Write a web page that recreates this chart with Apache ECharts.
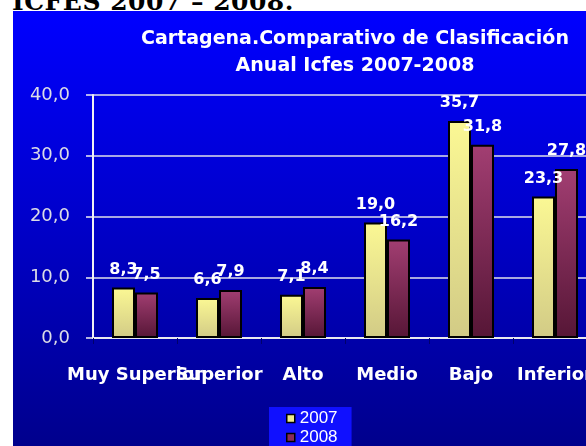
<!DOCTYPE html>
<html>
<head>
<meta charset="utf-8">
<script src="https://cdn.jsdelivr.net/npm/echarts@6/dist/echarts.min.js"></script>
<style>
  html, body { margin: 0; padding: 0; width: 586px; height: 446px; overflow: hidden; background: #fff; }
  #head { position: absolute; left: 12px; top: -13px; font-family: 'DejaVu Serif', serif; font-weight: bold; font-size: 25px; letter-spacing: 0.5px; color: #000; white-space: nowrap; }
  #chart { position: absolute; left: 13px; top: 11px; width: 684px; height: 450px;
           background: linear-gradient(to bottom, #0000ff 0%, #0000cc 45%, #000088 100%); }
</style>
</head>
<body>
<div id="head">ICFES 2007 – 2008.</div>
<div id="chart"></div>
<script>
// valores
const categorias = ['Muy Superior', 'Superior', 'Alto', 'Medio', 'Bajo', 'Inferior'];
const datos2007 = [8.3, 6.6, 7.1, 19.0, 35.7, 23.3];
const datos2008 = [7.5, 7.9, 8.4, 16.2, 31.8, 27.8];
const ticksY = [0, 10, 20, 30, 40];

const chart = echarts.init(document.getElementById('chart'));

const coma = v => v.toFixed(1).replace('.', ',');

const etiqueta = {
  show: true,
  position: 'top',
  distance: 10,
  color: '#ffffff',
  fontFamily: 'DejaVu Sans',
  fontWeight: 'bold',
  fontSize: 16,
  formatter: p => coma(p.value)
};

const option = {
  animation: false,
  title: {
    text: 'Cartagena.Comparativo de Clasificación\nAnual Icfes 2007-2008',
    left: 'center',
    top: 10,
    textStyle: {
      color: '#ffffff',
      fontFamily: 'DejaVu Sans',
      fontWeight: 'bold',
      fontSize: 19,
      lineHeight: 27
    }
  },
  legend: {
    orient: 'vertical',
    left: 256,
    top: 396,
    padding: [3, 14, 10, 17],
    backgroundColor: '#1010ff',
    itemWidth: 8,
    itemHeight: 8,
    itemGap: 2,
    icon: 'rect',
    textStyle: { color: '#ffffff', fontFamily: 'Liberation Sans', fontSize: 17 },
    data: [
      { name: '2007', itemStyle: { color: '#f0ec8c', borderColor: '#000', borderWidth: 1.5 } },
      { name: '2008', itemStyle: { color: '#8a2c5a', borderColor: '#000', borderWidth: 1.5 } }
    ]
  },
  grid: { left: 80, top: 84, width: 504, height: 243 },
  xAxis: {
    type: 'category',
    data: categorias,
    axisLine: { lineStyle: { color: '#e8e8ee', width: 2 } },
    axisTick: { show: true, length: 6, lineStyle: { color: '#00006a', width: 1 } },
    axisLabel: {
      interval: 0,
      margin: 28,
      color: '#ffffff',
      fontFamily: 'DejaVu Sans',
      fontWeight: 'bold',
      fontSize: 18
    }
  },
  yAxis: {
    type: 'value',
    min: ticksY[0],
    max: ticksY[ticksY.length - 1],
    interval: 10,
    axisLine: { show: true, lineStyle: { color: '#f0f0f4', width: 2 } },
    axisTick: { show: true, length: 7, lineStyle: { color: '#f0f0f4', width: 1.5 } },
    splitLine: { lineStyle: { color: '#e0e0ea', width: 1.5 } },
    axisLabel: {
      margin: 23,
      color: '#dcdce6',
      fontFamily: 'DejaVu Sans',
      fontSize: 18,
      formatter: v => coma(v)
    }
  },
  series: [
    {
      name: '2007',
      type: 'bar',
      data: datos2007,
      barWidth: 23,
      barGap: '0%',
      itemStyle: {
        borderColor: '#000',
        borderWidth: 2,
        color: new echarts.graphic.LinearGradient(0, 0, 0, 1, [
          { offset: 0, color: '#fbf894' },
          { offset: 1, color: '#d2cb86' }
        ])
      },
      label: etiqueta
    },
    {
      name: '2008',
      type: 'bar',
      data: datos2008,
      barWidth: 23,
      itemStyle: {
        borderColor: '#000',
        borderWidth: 2,
        color: new echarts.graphic.LinearGradient(0, 0, 0, 1, [
          { offset: 0, color: '#a23e72' },
          { offset: 1, color: '#561636' }
        ])
      },
      label: etiqueta
    }
  ]
};

chart.setOption(option);
</script>
</body>
</html>
